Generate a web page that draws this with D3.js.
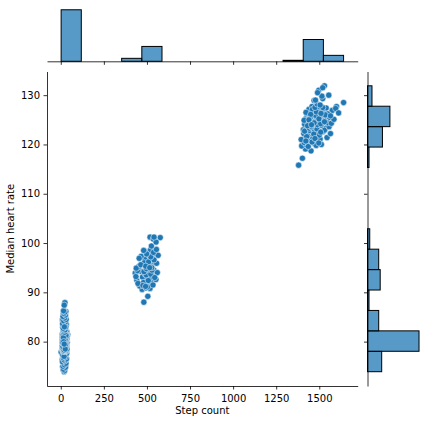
<!DOCTYPE html>
<html>
<head>
<meta charset="utf-8">
<script src="https://cdn.jsdelivr.net/npm/d3@7"></script>
<style>
	body { margin: 0; background: #fff; }
	text { font-family: "DejaVu Sans", sans-serif; }
</style>
</head>
<body>
<svg id="chart" width="427" height="424"></svg>
<script>

// [step count, median heart rate], one list per cluster
var restPoints = [
	[19,73.9],[14,74.3],[24,74.6],[11,74.9],[28,75.2],[17,75.5],[22,75.7],[13,76.0],[26,76.2],[9,76.4],
	[31,76.6],[20,76.8],[15,77.0],[25,77.2],[12,77.4],[29,77.5],[18,77.7],[23,77.8],[2,77.9],
	[22,74.1],[16,74.4],[27,74.8],[13,75.0],[21,75.3],[30,75.6],[10,75.9],[24,76.1],[18,76.3],[33,76.5],
	[15,76.7],[27,76.9],[20,77.1],[11,77.3],[23,77.5],[34,77.6],[16,77.8],[28,77.95],[19,77.0],
	[21,78.05],[13,78.1],[27,78.1],[16,78.2],[33,78.2],[10,78.3],[24,78.3],[19,78.4],[29,78.5],[12,78.5],
	[22,78.6],[35,78.6],[15,78.7],[26,78.8],[8,78.8],[20,78.9],[31,79.0],[14,79.0],[25,79.1],[18,79.1],
	[11,79.2],[28,79.3],[21,79.3],[34,79.4],[16,79.5],[23,79.5],[9,79.6],[30,79.6],[19,79.7],[13,79.8],
	[26,79.8],[37,79.9],[17,80.0],[22,80.0],[10,80.1],[29,80.1],[15,80.2],[24,80.3],[32,80.3],[20,80.4],
	[12,80.5],[27,80.5],[18,80.6],[36,80.6],[14,80.7],[25,80.8],[21,80.8],[8,80.9],[30,81.0],[16,81.0],
	[23,81.1],[11,81.1],[28,81.2],[19,81.3],[33,81.3],[14,81.4],[26,81.5],[22,81.5],[10,81.6],[31,81.6],
	[17,81.7],[24,81.8],[13,81.8],[29,81.9],[20,82.0],[35,82.0],[15,82.1],[25,82.1],[40,81.4],
	[17,78.1],[30,78.2],[23,78.3],[14,78.4],[36,78.5],[20,78.6],[11,78.7],[27,78.8],[18,78.9],[32,79.0],
	[24,79.1],[9,79.2],[21,79.3],[15,79.4],[29,79.5],[12,79.6],[26,79.7],[35,79.8],[19,79.9],[22,80.0],
	[14,80.1],[31,80.2],[17,80.3],[27,80.4],[10,80.5],[23,80.6],[33,80.7],[18,80.8],[28,80.9],[13,81.0],
	[21,81.1],[36,81.2],[16,81.3],[25,81.4],[11,81.5],[30,81.6],[20,81.7],[27,81.8],[15,81.9],[23,82.0],
	[32,82.1],[19,78.3],[26,78.6],[12,79.0],[24,79.4],[17,79.7],[29,80.0],[21,80.3],[14,80.6],[26,80.9],
	[19,81.2],[31,81.5],[22,81.8],[16,82.1],[25,78.9],[13,79.6],[28,80.2],[20,80.7],[34,81.1],[18,81.6],
	[24,80.4],[11,79.9],[30,81.3],[15,80.8],[27,79.3],[22,81.9],[17,80.0],[26,78.5],[20,79.5],
	[18,82.3],[27,82.6],[12,82.9],[23,83.2],[32,83.5],[16,83.8],[21,84.1],[10,84.4],[28,84.7],[19,85.0],
	[25,85.3],[14,85.6],[22,85.9],[30,86.1],[17,86.2],[24,87.9],
	[25,82.4],[14,82.7],[29,83.0],[20,83.3],[11,83.6],[26,83.9],[17,84.2],[31,84.5],[22,84.8],[13,85.1],
	[27,85.4],[19,85.7],[24,86.0],[16,86.25],[21,83.0],[20,87.4]
]

var walkPoints = [
	[482,88.0],[505,89.2],
	[472,90.6],[495,90.9],[458,91.3],[510,91.6],[486,91.9],[525,92.2],[441,92.5],[500,92.8],[474,93.1],
	[531,93.4],[490,93.7],[432,93.9],[515,94.1],[462,94.3],[505,94.4],[540,94.5],[480,92.0],
	[518,90.8],[503,91.1],[448,91.8],[535,91.5],[477,91.4],[552,92.6],[515,92.9],[436,93.2],[497,93.5],
	[560,94.0],[483,94.2],[445,94.4],[522,93.7],[508,92.4],[492,91.2],[545,93.0],[529,94.5],
	[497,94.8],[452,95.2],[520,95.5],[478,95.8],[545,96.1],[503,96.4],[488,96.7],[530,97.0],[466,97.3],
	[512,97.6],[549,97.9],[494,98.2],[535,98.4],[521,98.6],[484,96.0],
	[438,94.9],[528,95.0],[464,95.6],[556,95.9],[510,96.2],[493,95.3],[541,96.6],[455,96.9],[522,97.2],
	[565,97.5],[498,97.8],[538,98.1],[481,98.5],[555,98.7],[516,95.0],
	[518,101.2],[537,100.8],[577,101.1],[526,99.4],[553,100.2],[541,101.2]
]

var runPoints = [
	[1380,115.8],[1452,118.7],[1402,117.2],[1420,119.1],
	[1398,119.7],[1425,119.9],[1470,120.2],[1412,120.4],[1488,120.6],[1440,120.9],[1505,121.1],[1418,121.3],
	[1460,121.5],[1433,121.8],[1495,122.0],[1410,122.2],[1478,122.4],[1520,122.6],[1447,122.8],[1408,123.0],
	[1465,123.1],[1538,123.3],[1429,123.4],[1490,123.5],
	[1395,121.0],[1436,119.6],[1482,119.8],[1458,120.5],[1512,120.0],[1427,121.6],[1500,121.9],[1545,121.4],
	[1468,122.1],[1415,122.7],[1530,122.9],[1485,123.2],[1557,123.6],[1442,123.3],[1508,122.5],[1475,121.2],
	[1455,123.55],[1422,120.7],[1497,120.3],[1565,122.2],
	[1452,123.7],[1510,123.9],[1415,124.1],[1475,124.2],[1548,124.4],[1437,124.5],[1498,124.7],[1462,124.9],
	[1528,125.0],[1421,125.2],[1485,125.3],[1560,125.5],[1445,125.6],[1507,125.8],[1470,126.0],[1530,126.1],
	[1428,126.3],[1492,126.4],[1526,126.6],[1455,126.7],[1575,126.9],[1480,127.0],[1440,127.1],[1502,127.2],
	[1465,127.3],[1540,127.4],[1490,127.5],[1512,127.6],[1458,127.7],[1600,127.7],
	[1432,123.8],[1490,124.0],[1570,124.3],[1463,124.6],[1518,124.8],[1412,124.9],[1585,125.1],[1447,125.4],
	[1503,125.6],[1478,125.9],[1550,126.2],[1423,126.5],[1515,126.9],[1460,127.1],[1595,127.3],[1495,127.6],
	[1535,126.0],[1470,124.4],[1508,124.2],[1483,126.6],[1450,126.1],[1612,126.4],[1520,127.5],[1440,125.0],
	[1498,125.2],[1565,125.8],[1475,127.5],[1510,126.3],[1455,124.0],[1530,124.6],
	[1488,128.2],[1641,128.5],[1520,129.3],[1555,130.0],[1497,131.0],[1530,131.9],
	[1505,128.0],[1470,128.9],[1515,129.8],[1490,130.5],[1478,129.0],[1520,131.5]
]

var stepTicks = [0, 250, 500, 750, 1000, 1250, 1500]
var rateTicks = [80, 90, 100, 110, 120, 130]
var binCount = 14

var xLabel = 'Step count'
var yLabel = 'Median heart rate'

/****************************************
 *
 * Layout
 *
 ****************************************/

var main = { left: 47, right: 357.7, top: 71.5, bottom: 386 }
	, topMargin = { top: 7.2, bottom: 61.3 }
	, rightMargin = { left: 367.5, right: 421.6 }

var points = restPoints.concat(walkPoints, runPoints)
	, steps = points.map(function(d) { return d[0] })
	, rates = points.map(function(d) { return d[1] })

/**
 * Extent padded by 5% on each side, like matplotlib autoscaling
 */
function padded(values) {
	var e = d3.extent(values)
		, m = (e[1] - e[0]) * 0.05
	return [e[0] - m, e[1] + m]
}

/**
 * Equal-width bins spanning the data extent
 */
function makeBins(values) {
	var e = d3.extent(values)
		, w = (e[1] - e[0]) / binCount
		, thresholds = d3.range(1, binCount).map(function(i) { return e[0] + i * w })
	return d3.bin().domain(e).thresholds(thresholds)(values)
}

var x = d3.scaleLinear().domain(padded(steps)).range([main.left, main.right])
var y = d3.scaleLinear().domain(padded(rates)).range([main.bottom, main.top])

var stepBins = makeBins(steps)
	, rateBins = makeBins(rates)

var topCount = d3.scaleLinear()
	.domain([0, d3.max(stepBins, function(b) { return b.length }) * 1.05])
	.range([topMargin.bottom, topMargin.top])

var rightCount = d3.scaleLinear()
	.domain([0, d3.max(rateBins, function(b) { return b.length }) * 1.05])
	.range([rightMargin.left, rightMargin.right])

var svg = d3.select('#chart')

/****************************************
 *
 * Marginal histograms
 *
 ****************************************/

var barFill = '#1f77b4'

svg.append('g').selectAll('rect')
	.data(stepBins.filter(function(b) { return b.length > 0 }))
  .enter()
	.append('rect')
	.attr('x', function(b) { return x(b.x0) })
	.attr('width', function(b) { return x(b.x1) - x(b.x0) })
	.attr('y', function(b) { return topCount(b.length) })
	.attr('height', function(b) { return topCount(0) - topCount(b.length) })
	.style('fill', barFill)
	.style('fill-opacity', 0.75)
	.style('stroke', '#000')
	.style('stroke-width', 1)

svg.append('g').selectAll('rect')
	.data(rateBins.filter(function(b) { return b.length > 0 }))
  .enter()
	.append('rect')
	.attr('y', function(b) { return y(b.x1) })
	.attr('height', function(b) { return y(b.x0) - y(b.x1) })
	.attr('x', rightCount(0))
	.attr('width', function(b) { return rightCount(b.length) - rightCount(0) })
	.style('fill', barFill)
	.style('fill-opacity', 0.75)
	.style('stroke', '#000')
	.style('stroke-width', 1)

/****************************************
 *
 * Scatter
 *
 ****************************************/

svg.append('g').selectAll('circle')
	.data(points)
  .enter()
	.append('circle')
	.attr('cx', function(d) { return x(d[0]) })
	.attr('cy', function(d) { return y(d[1]) })
	.attr('r', 3.1)
	.style('fill', '#1f77b4')
	.style('stroke', '#fff')
	.style('stroke-width', 0.5)

/****************************************
 *
 * Axes
 *
 ****************************************/

function styleAxis(g) {
	g.select('.domain').attr('stroke-width', 0.8)
	g.selectAll('.tick line').attr('stroke-width', 0.8)
	g.selectAll('.tick text').style('font-size', '10px').attr('fill', '#000')
	g.attr('font-family', null).attr('font-size', null)
}

var plain = d3.format('d')

svg.append('g')
	.attr('transform', 'translate(0,' + main.bottom + ')')
	.call(d3.axisBottom(x).tickValues(stepTicks).tickFormat(plain).tickSizeInner(3.5).tickSizeOuter(0).tickPadding(5))
	.call(styleAxis)

svg.append('g')
	.attr('transform', 'translate(' + main.left + ',0)')
	.call(d3.axisLeft(y).tickValues(rateTicks).tickFormat(plain).tickSizeInner(3.5).tickSizeOuter(0).tickPadding(3.5))
	.call(styleAxis)

// marginal axes keep their ticks but show no labels
svg.append('g')
	.attr('transform', 'translate(0,' + topMargin.bottom + ')')
	.call(d3.axisBottom(x).tickValues(stepTicks).tickFormat('').tickSizeInner(3.5).tickSizeOuter(0))
	.call(styleAxis)

svg.append('g')
	.attr('transform', 'translate(' + rightMargin.left + ',0)')
	.call(d3.axisLeft(y).tickValues(rateTicks).tickFormat('').tickSizeInner(3.5).tickSizeOuter(0))
	.call(styleAxis)

svg.append('text')
	.attr('x', (main.left + main.right) / 2)
	.attr('y', 414)
	.attr('text-anchor', 'middle')
	.style('font-size', '10px')
	.text(xLabel)

svg.append('text')
	.attr('transform', 'translate(13.5,' + (main.top + main.bottom) / 2 + ') rotate(-90)')
	.attr('text-anchor', 'middle')
	.style('font-size', '10px')
	.text(yLabel)

</script>
</body>
</html>
